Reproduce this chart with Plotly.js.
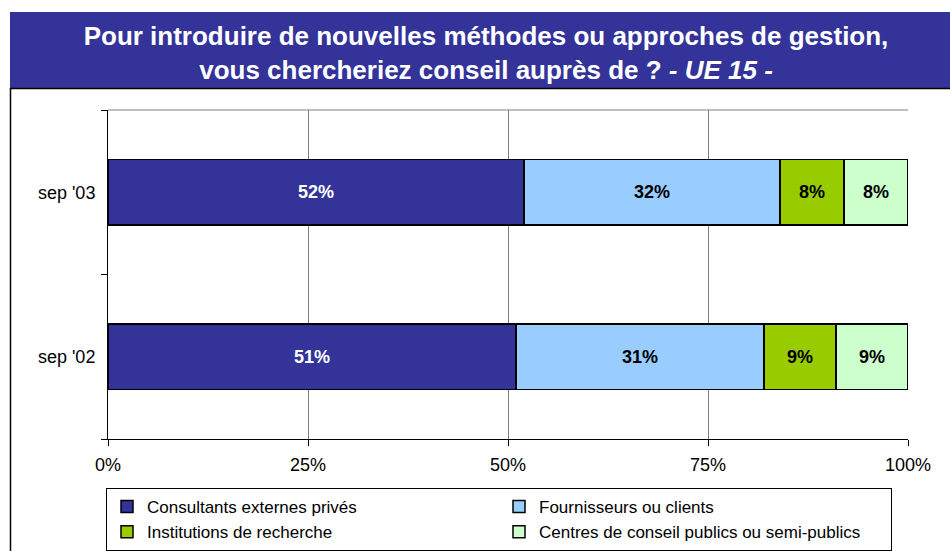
<!DOCTYPE html>
<html>
<head>
<meta charset="utf-8">
<script src="https://cdn.plot.ly/plotly-3.0.1.min.js"></script>
<style>
html,body{margin:0;padding:0;background:#fff;}
#chart{width:950px;height:551px;}
</style>
</head>
<body>
<div id="chart"></div>
<script>
// ---- data ----
const categories = ["sep '02", "sep '03"];
const seriesNames = [
  "Consultants externes privés",
  "Fournisseurs ou clients",
  "Institutions de recherche",
  "Centres de conseil publics ou semi-publics"
];
const consultants = [51, 52];
const fournisseurs = [31, 32];
const institutions = [9, 8];
const centres = [9, 8];
const xTickVals = [0, 25, 50, 75, 100];
const xTickText = ["0%", "25%", "50%", "75%", "100%"];

const seriesValues = [consultants, fournisseurs, institutions, centres];
const seriesColors = ["#333399", "#99CCFF", "#99CC00", "#CCFFCC"];
const textColors = ["#FFFFFF", "#000000", "#000000", "#000000"];

const FONT = "Arial, 'Liberation Sans', sans-serif";

const traces = seriesValues.map((vals, i) => ({
  type: "bar",
  orientation: "h",
  name: seriesNames[i],
  y: categories,
  x: vals,
  marker: { color: seriesColors[i], line: { color: "#000000", width: 1.5 } },
  text: vals.map(v => v + "%"),
  textposition: "inside",
  insidetextanchor: "middle",
  textangle: 0,
  constraintext: "none",
  textfont: { family: FONT, size: 18, color: textColors[i], weight: "bold" },
  hoverinfo: "skip"
}));

// plot area: x 108..908, y 110..439
const L = 108, R = 42, T = 110, B = 112;
const W = 950, H = 551;
const pw = W - L - R, ph = H - T - B;
const px = x => (x - L) / pw;
const py = y => (H - B - y) / ph;

const layout = {
  width: W, height: H,
  margin: { l: L, r: R, t: T, b: B, pad: 0, autoexpand: false },
  paper_bgcolor: "#FFFFFF",
  plot_bgcolor: "#FFFFFF",
  barmode: "stack",
  bargap: 0.6,
  showlegend: true,
  font: { family: FONT, size: 18, color: "#000000" },
  title: {
    text: "<b>Pour introduire de nouvelles méthodes ou approches de gestion,<br>vous chercheriez conseil auprès de ? <i>- UE 15 -</i></b>",
    font: { family: FONT, size: 26, color: "#FFFFFF" },
    xref: "container", yref: "container",
    x: 486 / W, xanchor: "center",
    y: 1 - 45 / H, yanchor: "middle"
  },
  xaxis: {
    range: [0, 100],
    tickvals: xTickVals,
    ticktext: xTickText,
    showgrid: true, gridcolor: "#808080", gridwidth: 1,
    zeroline: false,
    showline: true, linecolor: "#000000", linewidth: 1,
    ticks: "outside", ticklen: 6, tickcolor: "#000000",
    ticklabelstandoff: 3,
    tickfont: { family: FONT, size: 18, color: "#000000" },
    fixedrange: true
  },
  yaxis: {
    type: "category",
    categoryorder: "array",
    categoryarray: categories,
    showgrid: false,
    zeroline: false,
    showline: true, linecolor: "#000000", linewidth: 1,
    ticks: "outside", ticklen: 6, tickcolor: "#000000",
    tickson: "boundaries",
    ticklabelstandoff: 8,
    tickfont: { family: FONT, size: 18, color: "#000000" },
    fixedrange: true
  },
  legend: {
    orientation: "h",
    x: px(106), xanchor: "left",
    y: py(488), yanchor: "top",
    bgcolor: "#FFFFFF",
    bordercolor: "#000000", borderwidth: 1,
    entrywidth: 347, entrywidthmode: "pixels",
    traceorder: "normal",
    itemwidth: 30,
    font: { family: FONT, size: 17, color: "#000000" },
    tracegroupgap: 0
  },
  shapes: [
    // title band
    { type: "rect", xref: "paper", yref: "paper", layer: "below",
      x0: px(10), x1: px(960), y0: py(88), y1: py(12),
      fillcolor: "#333399", line: { width: 0 } },
    // outer frame
    { type: "rect", xref: "paper", yref: "paper", layer: "below",
      x0: px(10.5), x1: px(1000), y0: py(88.5), y1: py(600),
      fillcolor: "rgba(0,0,0,0)", line: { color: "#000000", width: 1.5 } },
    // plot area top border
    { type: "line", xref: "paper", yref: "paper", layer: "above",
      x0: 0, x1: 1, y0: 1, y1: 1,
      line: { color: "#808080", width: 1 } }
  ]
};

Plotly.newPlot("chart", traces, layout, { displayModeBar: false, staticPlot: true });
</script>
</body>
</html>
